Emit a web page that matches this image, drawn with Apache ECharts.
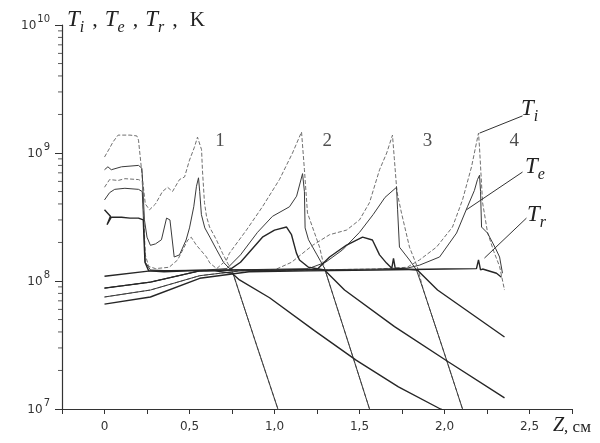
<!DOCTYPE html>
<html><head><meta charset="utf-8">
<script src="https://cdn.jsdelivr.net/npm/echarts@6/dist/echarts.min.js"></script>
<style>html,body{margin:0;padding:0;background:#fff}#c{width:600px;height:443px}</style>
</head><body><div id="c"></div>
<script>
// x: Z, cm ; y: temperature, K  (pairs [Z, T])
const ti1 = [[0,9.3e8],[0.03,1.09e9],[0.05,1.22e9],[0.08,1.38e9],[0.15,1.38e9],[0.19,1.36e9],[0.2,1.26e9],[0.225,6.0e8],[0.24,4.0e8],[0.265,3.6e8],[0.3,4.0e8],[0.341,5.0e8],[0.371,5.4e8],[0.4,5.0e8],[0.441,6.2e8],[0.471,6.5e8],[0.5,8.8e8],[0.529,1.11e9],[0.547,1.33e9],[0.571,1.06e9],[0.576,7.4e8],[0.588,4.1e8],[0.6,3.2e8],[0.618,2.64e8],[0.659,2.09e8],[0.694,1.65e8],[0.724,1.38e8],[0.753,1.18e8],[0.8,7.6e7],[0.9,3.0e7],[1.02,1.0e7],[1.06,7e6]];
const te1 = [[0,7.4e8],[0.02,7.8e8],[0.04,7.4e8],[0.1,7.8e8],[0.2,8.0e8],[0.22,7.6e8],[0.235,3.0e8],[0.25,2.2e8],[0.27,1.9e8],[0.3,1.95e8],[0.335,2.1e8],[0.365,3.1e8],[0.385,3.0e8],[0.41,1.54e8],[0.441,1.6e8],[0.48,2.09e8],[0.5,2.6e8],[0.525,3.8e8],[0.541,5.5e8],[0.553,6.4e8],[0.56,5.0e8],[0.57,3.3e8],[0.59,2.6e8],[0.62,2.2e8],[0.66,1.75e8],[0.7,1.4e8],[0.753,1.18e8],[0.8,7.6e7],[0.9,3.0e7],[1.02,1.0e7],[1.06,7e6]];
const tr1 = [[0,3.6e8],[0.035,3.2e8],[0.015,2.75e8],[0.04,3.15e8],[0.1,3.15e8],[0.15,3.1e8],[0.2,3.1e8],[0.228,3.0e8],[0.238,1.4e8],[0.26,1.2e8],[0.35,1.18e8],[0.5,1.2e8],[0.65,1.2e8],[0.75,1.15e8],[0.794,1.02e8],[0.971,7.4e7],[1.235,4.1e7],[1.482,2.4e7],[1.729,1.49e7],[1.976,1.0e7],[2.1,8.5e6]];

const ti2 = [[0,5.4e8],[0.03,6.2e8],[0.08,6.1e8],[0.12,6.3e8],[0.2,6.2e8],[0.222,6.0e8],[0.24,1.6e8],[0.26,1.3e8],[0.3,1.25e8],[0.38,1.28e8],[0.43,1.46e8],[0.49,2.09e8],[0.51,2.2e8],[0.54,1.91e8],[0.6,1.54e8],[0.62,1.38e8],[0.66,1.25e8],[0.718,1.46e8],[0.735,1.65e8],[0.835,2.5e8],[0.929,3.8e8],[1.029,6.2e8],[1.106,1.0e9],[1.159,1.46e9],[1.176,7.4e8],[1.194,3.4e8],[1.265,1.84e8],[1.294,1.26e8],[1.335,8.5e7],[1.45,2.84e7],[1.559,1.0e7],[1.6,7e6]];
const te2 = [[0,4.3e8],[0.03,4.9e8],[0.06,5.2e8],[0.12,5.3e8],[0.2,5.2e8],[0.222,5.0e8],[0.24,1.4e8],[0.27,1.22e8],[0.4,1.2e8],[0.6,1.22e8],[0.72,1.25e8],[0.8,1.6e8],[0.9,2.4e8],[0.988,3.2e8],[1.088,3.8e8],[1.13,4.6e8],[1.165,6.9e8],[1.176,5.0e8],[1.18,2.6e8],[1.2,2.1e8],[1.25,1.6e8],[1.294,1.26e8],[1.335,8.5e7],[1.45,2.84e7],[1.559,1.0e7],[1.6,7e6]];
const tr2 = [[0,1.09e8],[0.27,1.2e8],[0.5,1.21e8],[0.735,1.22e8],[0.8,1.4e8],[0.929,2.2e8],[1.0,2.5e8],[1.071,2.64e8],[1.1,2.3e8],[1.129,1.65e8],[1.147,1.46e8],[1.2,1.28e8],[1.294,1.22e8],[1.412,8.5e7],[1.706,4.4e7],[2.024,2.33e7],[2.353,1.22e7]];

const ti3 = [[0,8.8e7],[0.27,9.8e7],[0.56,1.2e8],[0.75,1.22e8],[1.0,1.22e8],[1.1,1.4e8],[1.224,1.9e8],[1.324,2.3e8],[1.424,2.5e8],[1.5,3.0e8],[1.559,4.1e8],[1.618,7.4e8],[1.66,1.0e9],[1.694,1.38e9],[1.705,9e8],[1.72,5e8],[1.747,3.4e8],[1.794,1.84e8],[1.84,1.29e8],[1.876,8.5e7],[2.0,2.7e7],[2.106,1.0e7],[2.15,7e6]];
const te3 = [[0,8.8e7],[0.27,9.8e7],[0.56,1.2e8],[0.75,1.22e8],[1.2,1.25e8],[1.3,1.4e8],[1.4,1.75e8],[1.5,2.4e8],[1.58,3.3e8],[1.65,4.5e8],[1.718,5.4e8],[1.724,3.6e8],[1.735,1.84e8],[1.794,1.46e8],[1.835,1.22e8],[1.876,8.5e7],[2.0,2.7e7],[2.106,1.0e7],[2.15,7e6]];
const tr3 = [[0,8.8e7],[0.27,9.8e7],[0.56,1.2e8],[0.75,1.22e8],[1.0,1.22e8],[1.25,1.23e8],[1.324,1.54e8],[1.424,1.91e8],[1.518,2.2e8],[1.576,2.09e8],[1.618,1.6e8],[1.659,1.38e8],[1.69,1.26e8],[1.7,1.5e8],[1.71,1.26e8],[1.84,1.22e8],[1.959,8.5e7],[2.353,3.65e7]];

const ti4 = [[0,7.5e7],[0.27,8.5e7],[0.56,1.1e8],[0.8,1.2e8],[1.2,1.22e8],[1.6,1.24e8],[1.78,1.28e8],[1.853,1.46e8],[1.953,1.84e8],[2.047,2.64e8],[2.106,4.3e8],[2.159,7.8e8],[2.188,1.2e9],[2.2,1.43e9],[2.206,1.1e9],[2.224,4.1e8],[2.253,2.4e8],[2.29,1.7e8],[2.324,1.3e8],[2.353,8.5e7]];
const te4 = [[0,7.5e7],[0.27,8.5e7],[0.56,1.1e8],[0.8,1.2e8],[1.2,1.22e8],[1.6,1.24e8],[1.78,1.26e8],[1.853,1.33e8],[1.971,1.54e8],[2.071,2.37e8],[2.135,3.8e8],[2.176,5.1e8],[2.194,6.2e8],[2.206,6.7e8],[2.212,5e8],[2.218,2.64e8],[2.253,2.37e8],[2.3,1.8e8],[2.324,1.54e8],[2.341,1.15e8]];
const tr4 = [[0,6.6e7],[0.27,7.5e7],[0.56,1.05e8],[0.85,1.18e8],[1.2,1.2e8],[1.6,1.22e8],[2.0,1.24e8],[2.188,1.25e8],[2.2,1.46e8],[2.212,1.22e8],[2.224,1.24e8],[2.306,1.15e8],[2.335,1.07e8]];

const yMinorTicks = [2e7,3e7,4e7,5e7,6e7,7e7,8e7,9e7,2e8,3e8,4e8,5e8,6e8,7e8,8e8,9e8,2e9,3e9,4e9,5e9,6e9,7e9,8e9,9e9];
const curveLabels = ['1','2','3','4'];
const curveLabelZ = [0.68, 1.31, 1.9, 2.41];
const curveLabelT = [1.25e9, 1.25e9, 1.25e9, 1.25e9];
// leader lines from curve to label: [from, to]
const leaderTi = [[2.206,1.43e9],[2.459,1.95e9]];
const leaderTe = [[2.129,3.6e8],[2.459,7.1e8]];
const leaderTr = [[2.235,1.51e8],[2.482,3.1e8]];

const X_MIN = -0.25, X_MAX = 2.75;

const styles = {
  ti: {color:'#707070', width:1, type:[4,2]},
  te: {color:'#3a3a3a', width:1, type:'solid'},
  tr: {color:'#262626', width:1.4, type:'solid'}
};
function mkLine(name, data, kind, leader){
  const s = {
    name, type:'line', data, showSymbol:false, symbol:'none', silent:true,
    lineStyle: Object.assign({}, styles[kind]), z: kind==='tr'?3:2
  };
  if (leader){
    s.markLine = {silent:true, symbol:'none', label:{show:false},
      lineStyle:{color:'#333', width:1, type:'solid'},
      data:[[{coord:leader[0]},{coord:leader[1]}]]};
  }
  return s;
}
const series = [
  mkLine('Ti 1', ti1, 'ti'), mkLine('Te 1', te1, 'te'), mkLine('Tr 1', tr1, 'tr'),
  mkLine('Ti 2', ti2, 'ti'), mkLine('Te 2', te2, 'te'), mkLine('Tr 2', tr2, 'tr'),
  mkLine('Ti 3', ti3, 'ti'), mkLine('Te 3', te3, 'te'), mkLine('Tr 3', tr3, 'tr'),
  mkLine('Ti 4', ti4, 'ti', leaderTi), mkLine('Te 4', te4, 'te', leaderTe), mkLine('Tr 4', tr4, 'tr', leaderTr),
  {
    name:'minor', type:'scatter', clip:false, silent:true, symbol:'rect', symbolSize:[4,1],
    symbolOffset:[-2,0], itemStyle:{color:'#333'},
    data: yMinorTicks.map(v => [X_MIN, v])
  },
  {
    name:'labels', type:'scatter', silent:true, symbolSize:0,
    data: curveLabelZ.map((z,i)=>[z, curveLabelT[i]]),
    label:{show:true, position:'inside', formatter:p=>curveLabels[p.dataIndex],
      fontFamily:'Liberation Serif', fontSize:19, color:'#222'}
  }
];

const T_STYLE = {fontFamily:'Liberation Serif', fontStyle:'italic', fontSize:23, lineHeight:24, padding:[0,0,5,0], verticalAlign:'bottom', fill:'#222'};
const S_STYLE = {fontFamily:'Liberation Serif', fontStyle:'italic', fontSize:16, lineHeight:16, verticalAlign:'bottom', fill:'#222'};

const chart = echarts.init(document.getElementById('c'), null, {renderer:'canvas'});
chart.setOption({
  animation:false,
  backgroundColor:'#fff',
  grid:{left:62, right:28, top:25, bottom:34, containLabel:false, outerBoundsMode:'none'},
  xAxis:{
    type:'value', min:X_MIN, max:X_MAX, interval:0.25,
    axisLine:{onZero:false, lineStyle:{color:'#333', width:1.2}},
    axisTick:{length:5, lineStyle:{color:'#333'}},
    splitLine:{show:false},
    axisLabel:{margin:12, color:'#333', fontFamily:'DejaVu Sans', fontSize:12,
      formatter:v=>{const r=Math.round(v*100)/100; if(r<0) return ''; if(Math.abs(r*2-Math.round(r*2))>1e-6) return ''; return r===0?'0':r.toFixed(1).replace('.',',');}}
  },
  yAxis:{
    type:'log', logBase:10, min:1e7, max:1e10,
    axisLine:{show:true, onZero:false, lineStyle:{color:'#333', width:1.2}},
    axisTick:{show:true, length:7, lineStyle:{color:'#333'}},
    splitLine:{show:false},
    axisLabel:{margin:12, color:'#333',
      formatter:v=>'{b|10}{e|'+Math.round(Math.log10(v))+'}',
      rich:{
        b:{fontFamily:'DejaVu Sans', fontSize:12, lineHeight:13, verticalAlign:'bottom'},
        e:{fontFamily:'DejaVu Sans', fontSize:10, lineHeight:11, verticalAlign:'bottom', padding:[0,0,7,1]}
      }}
  },
  graphic:[
    {type:'text', left:67, top:8, silent:true, style:{
      text:'{t|T}{s|i}{c|,}{t|T}{s|e}{c|,}{t|T}{s|r}{c|,}{k|K}',
      rich:{
        t:T_STYLE, s:S_STYLE,
        c:{fontFamily:'Liberation Serif', fontSize:22, lineHeight:24, padding:[0,7,5,8], verticalAlign:'bottom', fill:'#222'},
        k:{fontFamily:'Liberation Serif', fontSize:21, lineHeight:24, padding:[0,0,5,5], verticalAlign:'bottom', fill:'#222'}
      }}},
    {type:'text', left:521, top:97, silent:true, style:{text:'{t|T}{s|i}', rich:{t:T_STYLE, s:S_STYLE}}},
    {type:'text', left:525, top:155, silent:true, style:{text:'{t|T}{s|e}', rich:{t:T_STYLE, s:S_STYLE}}},
    {type:'text', left:527, top:203, silent:true, style:{text:'{t|T}{s|r}', rich:{t:T_STYLE, s:S_STYLE}}},
    {type:'text', left:553, top:416, silent:true, style:{
      text:'{z|Z}{c|, см}', rich:{
        z:{fontFamily:'Liberation Serif', fontStyle:'italic', fontSize:20, verticalAlign:'bottom', fill:'#222'},
        c:{fontFamily:'Liberation Serif', fontSize:17, verticalAlign:'bottom', fill:'#222'}}}}
  ],
  series
});
</script></body></html>
